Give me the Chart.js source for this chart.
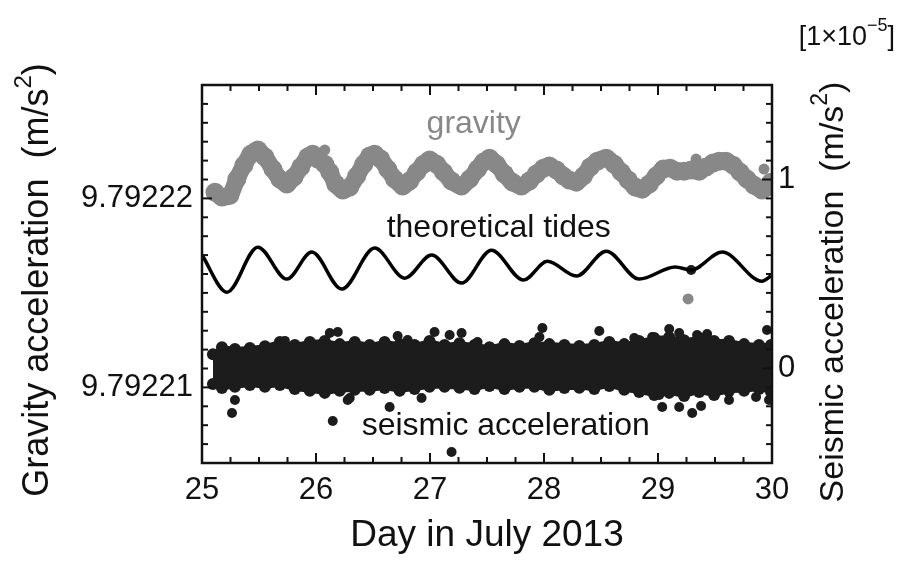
<!DOCTYPE html>
<html>
<head>
<meta charset="utf-8">
<script src="https://cdn.jsdelivr.net/npm/chart.js@4.4.1/dist/chart.umd.min.js"></script>
<style>
  html, body { margin: 0; padding: 0; background: #fff; }
  #wrap { width: 901px; height: 563px; }
</style>
</head>
<body>
<div id="wrap"><canvas id="gravityChart"></canvas></div>
<script>
// axis ranges and labelled ticks
const dayMin = 25, dayMax = 30;
const dayTicks = [25, 26, 27, 28, 29, 30];
const gravityMin = 9.792206, gravityMax = 9.792226;
const gravityTicks = [9.79221, 9.79222];
const seismicMin = -0.5, seismicMax = 1.5;   // x 1e-5 m/s2
const seismicTicks = [0, 1];

// measured gravity (m/s2)
const gravityDays = [25.114, 25.175, 25.245, 25.306, 25.368, 25.429, 25.490, 25.552, 25.622, 25.683,
  25.744, 25.806, 25.867, 25.928, 25.972, 26.016, 26.077, 26.121, 26.173, 26.235,
  26.296, 26.357, 26.419, 26.471, 26.515, 26.567, 26.629, 26.690, 26.760, 26.821,
  26.883, 26.944, 26.996, 27.058, 27.119, 27.189, 27.277, 27.347, 27.417, 27.469,
  27.522, 27.583, 27.653, 27.723, 27.802, 27.872, 27.933, 27.995, 28.047, 28.109,
  28.170, 28.222, 28.284, 28.345, 28.406, 28.468, 28.546, 28.616, 28.678, 28.739,
  28.800, 28.862, 28.923, 28.984, 29.046, 29.107, 29.168, 29.229, 29.291, 29.361,
  29.422, 29.483, 29.536, 29.597, 29.658, 29.720, 29.781, 29.842, 29.912, 29.956, 29.991];
const gravityValues = [9.79222033, 9.79222007, 9.79222017, 9.79222102, 9.79222176, 9.79222234, 9.79222256, 9.79222219, 9.79222155, 9.79222102,
  9.79222076, 9.79222113, 9.79222166, 9.79222219, 9.79222234, 9.79222208, 9.79222181, 9.79222139, 9.79222076, 9.79222044,
  9.79222060, 9.79222118, 9.79222181, 9.79222224, 9.79222234, 9.79222208, 9.79222155, 9.79222102, 9.79222065, 9.79222092,
  9.79222139, 9.79222181, 9.79222203, 9.79222181, 9.79222139, 9.79222092, 9.79222065, 9.79222102, 9.79222155, 9.79222192,
  9.79222213, 9.79222181, 9.79222129, 9.79222086, 9.79222065, 9.79222092, 9.79222129, 9.79222160, 9.79222171, 9.79222150,
  9.79222118, 9.79222097, 9.79222086, 9.79222118, 9.79222166, 9.79222197, 9.79222213, 9.79222181, 9.79222139, 9.79222097,
  9.79222060, 9.79222049, 9.79222076, 9.79222118, 9.79222155, 9.79222160, 9.79222144, 9.79222144, 9.79222150, 9.79222144,
  9.79222166, 9.79222187, 9.79222197, 9.79222197, 9.79222176, 9.79222139, 9.79222102, 9.79222070, 9.79222044, 9.79222060, 9.79222086];
const gravityOutDays = [26.077, 29.334, 29.930, 29.264];
const gravityOutValues = [9.79222256, 9.79222208, 9.79222155, 9.79221468];

// theoretical tides (m/s2), turning points
const tideDays = [25.000, 25.219, 25.490, 25.744, 25.963, 26.226, 26.515, 26.778, 27.014, 27.277,
  27.539, 27.820, 28.030, 28.284, 28.546, 28.835, 29.151, 29.291, 29.562, 29.912, 29.991];
const tideValues = [9.79221700, 9.79221504, 9.79221742, 9.79221573, 9.79221716, 9.79221520, 9.79221737, 9.79221578, 9.79221700, 9.79221552,
  9.79221726, 9.79221568, 9.79221667, 9.79221589, 9.79221721, 9.79221573, 9.79221637, 9.79221621, 9.79221716, 9.79221562, 9.79221589];

// seismic acceleration (1e-5 m/s2): envelope of the dense cloud + stray points
const seismicDays = [25.096, 25.175, 25.289, 25.420, 25.552, 25.683, 25.814, 25.946, 26.077, 26.208,
  26.340, 26.471, 26.602, 26.734, 26.865, 26.996, 27.128, 27.259, 27.391, 27.522,
  27.653, 27.785, 27.916, 28.047, 28.179, 28.310, 28.441, 28.573, 28.704, 28.835,
  28.967, 29.098, 29.229, 29.361, 29.492, 29.623, 29.755, 29.886, 29.991];
const seismicUpper = [0.076, 0.113, 0.103, 0.108, 0.118, 0.140, 0.124, 0.140, 0.145, 0.129,
  0.140, 0.124, 0.140, 0.129, 0.124, 0.145, 0.124, 0.134, 0.124, 0.113,
  0.129, 0.119, 0.134, 0.129, 0.124, 0.119, 0.124, 0.140, 0.129, 0.145,
  0.161, 0.166, 0.150, 0.161, 0.145, 0.145, 0.129, 0.124, 0.124];
const seismicLower = [-0.082, -0.103, -0.097, -0.087, -0.097, -0.087, -0.108, -0.118, -0.129, -0.118,
  -0.113, -0.113, -0.103, -0.118, -0.108, -0.097, -0.097, -0.102, -0.108, -0.092,
  -0.108, -0.097, -0.097, -0.113, -0.103, -0.102, -0.108, -0.092, -0.113, -0.124,
  -0.140, -0.129, -0.145, -0.124, -0.140, -0.119, -0.118, -0.108, -0.124];
const seismicOutDays = [25.263, 26.147, 27.189, 26.646, 26.926, 26.296, 25.289, 26.278, 26.191, 26.121,
  26.716, 27.040, 27.172, 27.277, 26.804, 25.727, 27.986, 27.960, 28.485, 28.792,
  28.949, 29.098, 29.186, 29.343, 29.431, 29.956, 29.037, 29.186, 29.300, 29.378,
  29.011, 29.623, 29.860, 29.974, 27.417, 29.291];
const seismicOutValues = [-0.235, -0.278, -0.442, -0.204, -0.156, -0.156, -0.167, -0.167, 0.193, 0.188,
  0.172, 0.193, 0.177, 0.188, 0.151, 0.146, 0.214, 0.167, 0.198, 0.161,
  0.167, 0.209, 0.188, 0.177, 0.183, 0.204, -0.204, -0.204, -0.235, -0.198,
  -0.140, -0.167, -0.151, -0.167, 0.140, 0.521];

// in-plot labels (anchored in data coordinates, left axis)
const noteTexts = ['gravity', 'theoretical tides', 'seismic acceleration'];
const noteDays = [26.970, 26.620, 26.401];
const noteValues = [9.79222344, 9.79221794, 9.79220749];

const pts = (xs, ys) => xs.map((d, i) => ({ x: d, y: ys[i] }));

const FONT = "'Liberation Sans', Arial, sans-serif";
const INK = '#111111';
const GREY = '#888888';
const DARK = '#1c1c1c';
const TITLE_SIZE = 36;

// text with a trailing superscript, e.g. (m/s2) or 10^-5
function drawSup(ctx, head, sup, tail, size, supSize, rise, align) {
    ctx.font = size + 'px ' + FONT;
    const wHead = ctx.measureText(head).width;
    const wTail = ctx.measureText(tail).width;
    ctx.font = supSize + 'px ' + FONT;
    const wSup = ctx.measureText(sup).width;
    const total = wHead + wSup + wTail;
    let x = align === 'center' ? -total / 2 : -total;
    ctx.textAlign = 'left';
    ctx.font = size + 'px ' + FONT;
    ctx.fillText(head, x, 0);
    x += wHead;
    ctx.font = supSize + 'px ' + FONT;
    ctx.fillText(sup, x, -rise);
    x += wSup;
    ctx.font = size + 'px ' + FONT;
    ctx.fillText(tail, x, 0);
}

// frame, inward ticks, vertical titles, labels inside the plot and the [1x10^-5] factor
const frameAndTicks = {
    id: 'frameAndTicks',
    afterDatasetsDraw(chart) {
        const { ctx, chartArea: a, scales } = chart;
        ctx.save();
        ctx.strokeStyle = INK;
        ctx.lineWidth = 2;

        // 6-hour ticks on bottom and top
        for (let i = 0; i <= (dayMax - dayMin) * 4; i++) {
            const px = scales.x.getPixelForValue(dayMin + i / 4);
            const len = i % 4 === 0 ? 10 : 6;
            ctx.beginPath();
            ctx.moveTo(px, a.bottom); ctx.lineTo(px, a.bottom - len);
            ctx.moveTo(px, a.top); ctx.lineTo(px, a.top + len);
            ctx.stroke();
        }
        // left axis, every 1e-6
        for (let i = 0; i <= 20; i++) {
            const v = gravityMin + i * 1e-6;
            const py = scales.y.getPixelForValue(v);
            const major = gravityTicks.some(t => Math.abs(t - v) < 1e-9);
            ctx.beginPath();
            ctx.moveTo(a.left, py); ctx.lineTo(a.left + (major ? 10 : 6), py);
            ctx.stroke();
        }
        // right axis, every 0.1
        for (let i = 0; i <= 20; i++) {
            const v = seismicMin + i * 0.1;
            const py = scales.y2.getPixelForValue(v);
            const major = seismicTicks.some(t => Math.abs(t - v) < 1e-6);
            ctx.beginPath();
            ctx.moveTo(a.right, py); ctx.lineTo(a.right - (major ? 10 : 6), py);
            ctx.stroke();
        }
        ctx.lineWidth = 2.5;
        ctx.strokeRect(a.left, a.top, a.width, a.height);

        // labels in the plot
        ctx.font = '32px ' + FONT;
        ctx.textAlign = 'left';
        ctx.textBaseline = 'alphabetic';
        noteTexts.forEach((t, i) => {
            ctx.fillStyle = i === 0 ? GREY : INK;
            ctx.fillText(t, scales.x.getPixelForValue(noteDays[i]), scales.y.getPixelForValue(noteValues[i]));
        });

        ctx.fillStyle = INK;
        ctx.textBaseline = 'middle';
        const midY = (a.top + a.bottom) / 2;

        // left title
        ctx.save();
        ctx.translate(38, midY + 6);
        ctx.rotate(-Math.PI / 2);
        drawSup(ctx, 'Gravity acceleration  (m/s', '2', ')', TITLE_SIZE, 24, 14, 'center');
        ctx.restore();

        // right title
        ctx.save();
        ctx.translate(834, midY + 18);
        ctx.rotate(-Math.PI / 2);
        drawSup(ctx, 'Seismic acceleration  (m/s', '2', ')', 34, 23, 13, 'center');
        ctx.restore();

        // scale factor of the right axis
        ctx.save();
        ctx.translate(chart.width - 6, 38);
        drawSup(ctx, '[1\u00d710', '\u22125', ']', 27, 18, 12, 'right');
        ctx.restore();

        ctx.restore();
    }
};

const tickFont = { family: FONT, size: 31 };

new Chart(document.getElementById('gravityChart').getContext('2d'), {
    type: 'scatter',
    data: {
        datasets: [
            {   // theoretical tides
                data: pts(tideDays, tideValues),
                yAxisID: 'y',
                showLine: true,
                borderColor: '#000',
                borderWidth: 3.5,
                cubicInterpolationMode: 'monotone',
                pointRadius: 0
            },
            {   // stray gravity readings
                data: pts(gravityOutDays, gravityOutValues),
                yAxisID: 'y',
                pointRadius: 5.5,
                pointBackgroundColor: GREY,
                pointBorderWidth: 0
            },
            {   // gravity
                data: pts(gravityDays, gravityValues),
                yAxisID: 'y',
                showLine: true,
                borderColor: GREY,
                borderWidth: 17,
                borderCapStyle: 'round',
                borderJoinStyle: 'round',
                tension: 0.3,
                pointRadius: 9.5,
                pointBackgroundColor: GREY,
                pointBorderWidth: 0
            },
            {   // stray seismic readings
                data: pts(seismicOutDays, seismicOutValues),
                yAxisID: 'y2',
                pointRadius: 5,
                pointBackgroundColor: DARK,
                pointBorderWidth: 0
            },
            {   // seismic cloud, upper edge
                data: pts(seismicDays, seismicUpper),
                yAxisID: 'y2',
                showLine: true,
                borderColor: DARK,
                borderWidth: 4,
                pointRadius: 6,
                pointBackgroundColor: DARK,
                pointBorderWidth: 0
            },
            {   // seismic cloud, lower edge
                data: pts(seismicDays, seismicLower),
                yAxisID: 'y2',
                showLine: true,
                borderColor: DARK,
                borderWidth: 4,
                backgroundColor: DARK,
                fill: '-1',
                pointRadius: 6,
                pointBackgroundColor: DARK,
                pointBorderWidth: 0
            }
        ]
    },
    options: {
        responsive: true,
        maintainAspectRatio: false,
        animation: false,
        layout: { padding: { top: 85 } },
        plugins: {
            legend: { display: false },
            tooltip: { enabled: false }
        },
        scales: {
            x: {
                type: 'linear',
                min: dayMin,
                max: dayMax,
                grid: { display: false, drawTicks: false },
                border: { display: false },
                afterBuildTicks: s => { s.ticks = dayTicks.map(v => ({ value: v })); },
                afterFit: s => { s.height = 100; },
                ticks: { font: tickFont, color: INK, padding: 9, maxRotation: 0, autoSkip: false },
                title: { display: true, text: 'Day in July 2013', font: { family: FONT, size: 37 }, color: INK, padding: { top: 0, bottom: 5 } }
            },
            y: {
                position: 'left',
                min: gravityMin,
                max: gravityMax,
                grid: { display: false, drawTicks: false },
                border: { display: false },
                afterBuildTicks: s => { s.ticks = gravityTicks.map(v => ({ value: v })); },
                afterFit: s => { s.width = 202; },
                ticks: { font: tickFont, color: INK, padding: 9, callback: v => v.toFixed(5) }
            },
            y2: {
                position: 'right',
                min: seismicMin,
                max: seismicMax,
                grid: { display: false, drawTicks: false },
                border: { display: false },
                afterBuildTicks: s => { s.ticks = seismicTicks.map(v => ({ value: v })); },
                afterFit: s => { s.width = 129; },
                ticks: { font: tickFont, color: INK, padding: 6, callback: v => String(v) }
            }
        }
    },
    plugins: [frameAndTicks]
});
</script>
</body>
</html>
